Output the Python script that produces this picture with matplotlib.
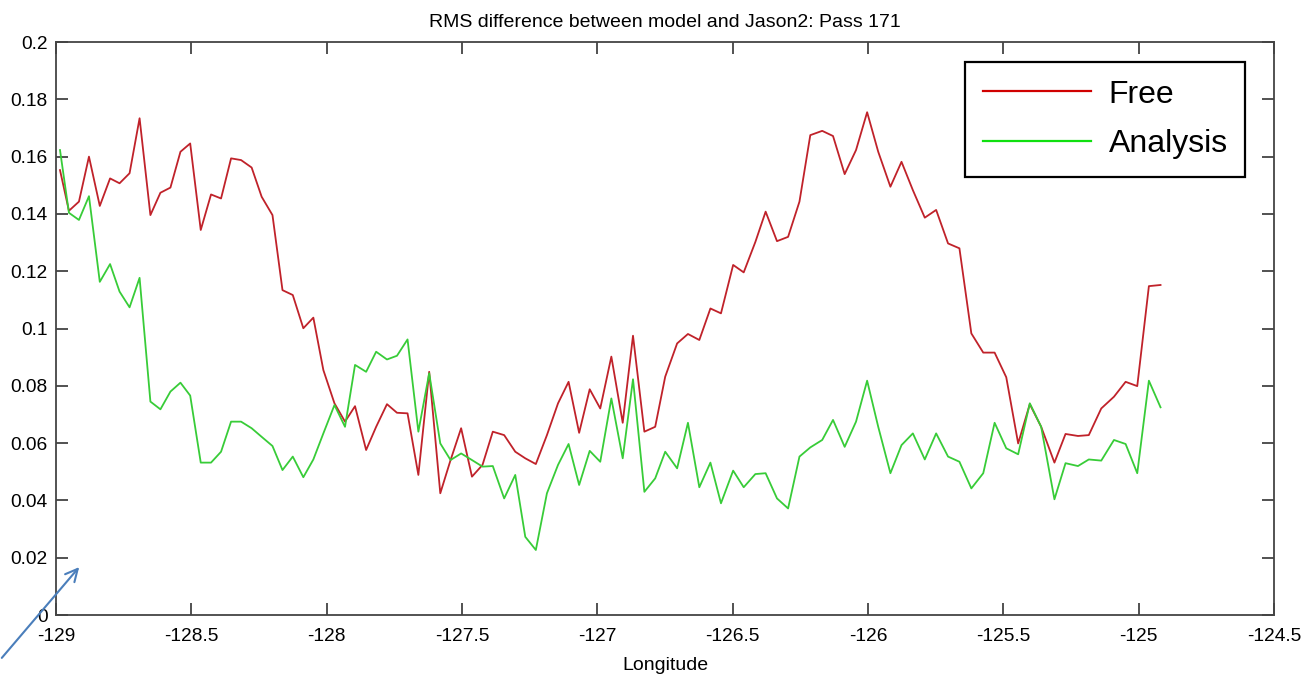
import matplotlib
matplotlib.use('Agg')
import matplotlib.pyplot as plt

plt.rcParams['font.family'] = ['Liberation Sans', 'DejaVu Sans']

# along-track longitudes
lon = [-128.985, -128.952, -128.915, -128.878, -128.838, -128.800, -128.765, -128.728,
       -128.691, -128.651, -128.614, -128.577, -128.540, -128.504, -128.465, -128.427,
       -128.390, -128.353, -128.316, -128.277, -128.240, -128.200, -128.163, -128.125,
       -128.086, -128.049, -128.012, -127.971, -127.932, -127.895, -127.854, -127.817,
       -127.777, -127.740, -127.701, -127.661, -127.621, -127.580, -127.542, -127.503,
       -127.463, -127.424, -127.386, -127.344, -127.303, -127.266, -127.227, -127.186,
       -127.145, -127.106, -127.067, -127.028, -126.989, -126.948, -126.906, -126.868,
       -126.826, -126.786, -126.749, -126.705, -126.665, -126.623, -126.582, -126.543,
       -126.498, -126.459, -126.416, -126.378, -126.336, -126.295, -126.253, -126.213,
       -126.169, -126.129, -126.086, -126.044, -126.003, -125.962, -125.917, -125.876,
       -125.834, -125.790, -125.748, -125.704, -125.662, -125.618, -125.574, -125.532,
       -125.489, -125.445, -125.402, -125.360, -125.311, -125.270, -125.224, -125.184,
       -125.138, -125.091, -125.048, -125.005, -124.962, -124.919]

# RMS difference, free run
rms_free = [0.1553, 0.1411, 0.1443, 0.1600, 0.1428, 0.1524, 0.1507, 0.1542,
            0.1734, 0.1396, 0.1474, 0.1492, 0.1617, 0.1646, 0.1344, 0.1468,
            0.1454, 0.1594, 0.1588, 0.1562, 0.1460, 0.1396, 0.1134, 0.1117,
            0.1001, 0.1038, 0.0855, 0.0739, 0.0675, 0.0729, 0.0576, 0.0657,
            0.0736, 0.0706, 0.0704, 0.0489, 0.0849, 0.0425, 0.0541, 0.0652,
            0.0483, 0.0524, 0.0640, 0.0628, 0.0570, 0.0547, 0.0527, 0.0628,
            0.0739, 0.0814, 0.0636, 0.0788, 0.0721, 0.0902, 0.0671, 0.0975,
            0.0640, 0.0657, 0.0832, 0.0948, 0.0981, 0.0960, 0.1070, 0.1053,
            0.1222, 0.1196, 0.1302, 0.1408, 0.1305, 0.1320, 0.1443, 0.1675,
            0.1690, 0.1672, 0.1539, 0.1623, 0.1755, 0.1617, 0.1495, 0.1582,
            0.1483, 0.1387, 0.1414, 0.1297, 0.1280, 0.0983, 0.0916, 0.0916,
            0.0830, 0.0599, 0.0736, 0.0657, 0.0532, 0.0632, 0.0625, 0.0628,
            0.0721, 0.0762, 0.0814, 0.0799, 0.1148, 0.1152]

# RMS difference, analysis
rms_analysis = [0.1623, 0.1404, 0.1379, 0.1462, 0.1163, 0.1225, 0.1129, 0.1074,
                0.1177, 0.0745, 0.0718, 0.0780, 0.0811, 0.0766, 0.0532, 0.0532,
                0.0570, 0.0675, 0.0675, 0.0652, 0.0622, 0.0590, 0.0506, 0.0553,
                0.0481, 0.0543, 0.0634, 0.0733, 0.0657, 0.0873, 0.0849, 0.0919,
                0.0892, 0.0905, 0.0962, 0.0640, 0.0844, 0.0599, 0.0541, 0.0564,
                0.0541, 0.0518, 0.0520, 0.0407, 0.0489, 0.0273, 0.0227, 0.0425,
                0.0524, 0.0597, 0.0454, 0.0573, 0.0535, 0.0756, 0.0547, 0.0823,
                0.0430, 0.0477, 0.0570, 0.0512, 0.0671, 0.0446, 0.0532, 0.0390,
                0.0504, 0.0446, 0.0492, 0.0495, 0.0407, 0.0372, 0.0553, 0.0585,
                0.0611, 0.0681, 0.0587, 0.0675, 0.0818, 0.0657, 0.0495, 0.0593,
                0.0634, 0.0543, 0.0634, 0.0553, 0.0535, 0.0442, 0.0495, 0.0671,
                0.0582, 0.0561, 0.0739, 0.0657, 0.0404, 0.0530, 0.0520, 0.0543,
                0.0539, 0.0611, 0.0597, 0.0495, 0.0818, 0.0725]

xticks = [-129, -128.5, -128, -127.5, -127, -126.5, -126, -125.5, -125, -124.5]
yticks = [0, 0.02, 0.04, 0.06, 0.08, 0.1, 0.12, 0.14, 0.16, 0.18, 0.2]

fig = plt.figure(figsize=(13.01, 6.76), dpi=100)
ax = fig.add_axes([0.0430, 0.0902, 0.9362, 0.8476])

ax.plot(lon, rms_free, color='#c0222a', lw=1.3, label='Free')
ax.plot(lon, rms_analysis, color='#38cc38', lw=1.3, label='Analysis')

ax.set_xlim(-129, -124.5)
ax.set_ylim(0, 0.2)
ax.set_xticks(xticks)
ax.set_xticklabels(['%g' % t for t in xticks])
ax.set_yticks(yticks)
ax.set_yticklabels(['%g' % t for t in yticks])

ax.tick_params(axis='both', direction='in', length=8.5, width=1.2, color='#333333',
               top=True, right=True, labelsize=13.8)
ax.tick_params(axis='x', pad=9)
ax.tick_params(axis='y', pad=6)
for s in ax.spines.values():
    s.set_color('#444444')
    s.set_linewidth(1.3)

ax.set_title('RMS difference between model and Jason2: Pass 171', fontsize=14, pad=11)
ax.set_xlabel('Longitude', fontsize=14, labelpad=9)

leg = ax.legend(loc='upper left', bbox_to_anchor=(965 / 1301, 1 - 62 / 676),
                bbox_transform=fig.transFigure, borderaxespad=0, fontsize=23,
                frameon=True, fancybox=False, framealpha=1, edgecolor='black',
                handlelength=3.4, handletextpad=0.55, borderpad=0.55, labelspacing=0.62)
leg.get_frame().set_linewidth(1.6)
for line in leg.get_lines():
    line.set_linewidth(1.6)
leg.get_lines()[0].set_color('#d00000')
leg.get_lines()[1].set_color('#10e010')

# hand-drawn blue arrow in the lower left corner
ax.annotate('', xy=(81, 111), xycoords='figure pixels',
            xytext=(0, 16), textcoords='figure pixels',
            arrowprops=dict(arrowstyle='->', color='#4a7ebb', lw=1.5,
                            mutation_scale=22),
            annotation_clip=False)

fig.savefig('out.png', dpi=100)
